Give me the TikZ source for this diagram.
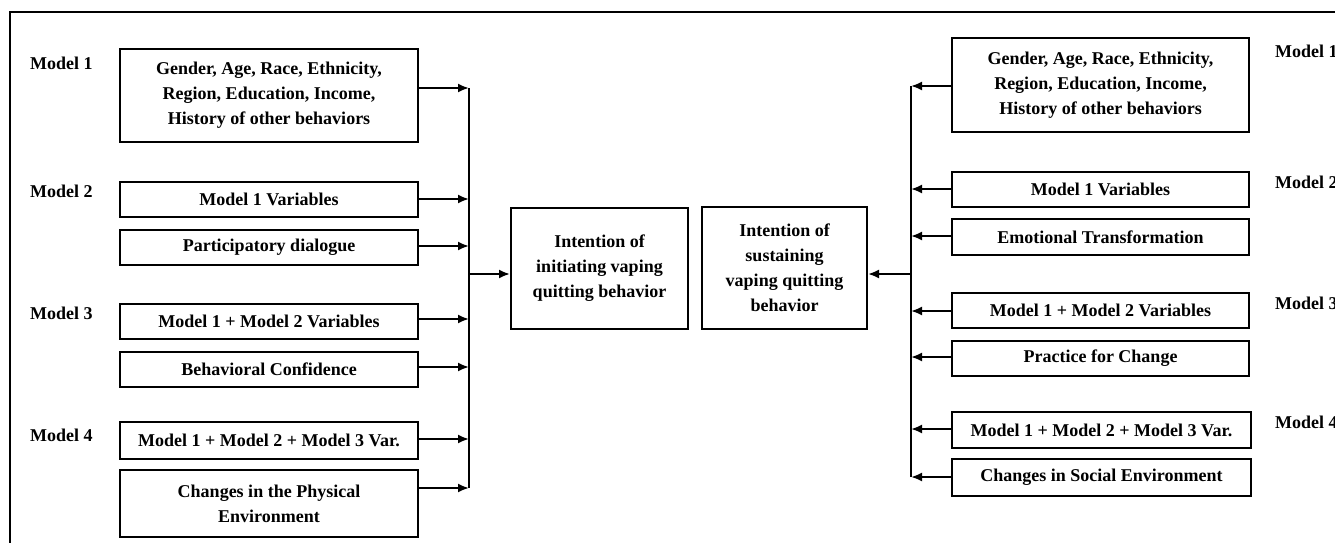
\documentclass[tikz,border=0pt]{standalone}
\usepackage{fontspec}
\setmainfont{Liberation Serif}
\usetikzlibrary{arrows.meta}

\tikzset{
  varbox/.style={draw, line width=2pt, align=center, inner sep=0pt,
                 minimum width=298pt, font=\bfseries\fontsize{18}{25}\selectfont},
  outbox/.style={draw, line width=2pt, align=center, inner sep=0pt,
                 font=\bfseries\fontsize{18}{25}\selectfont},
  modellbl/.style={anchor=west, inner sep=0pt, font=\bfseries\fontsize{18}{25}\selectfont},
  feed/.style={line width=2pt, -{Latex[length=11pt,width=9pt]}},
  bus/.style={line width=2pt},
}

\begin{document}
\begin{tikzpicture}[x=1pt, y=-1pt]
\useasboundingbox (0,0) rectangle (1335,543);
\clip (0,0) rectangle (1335,543);

% outer frame
\draw[line width=2.5pt] (10,560) -- (10,12) -- (1350,12);

% ---- left side: initiating ----
\node[modellbl] (ml1) at (30,63)  {Model 1};
\node[modellbl] (ml2) at (30,191) {Model 2};
\node[modellbl] (ml3) at (30,313) {Model 3};
\node[modellbl] (ml4) at (30,435) {Model 4};

\node[varbox, minimum height=93pt] (l1) at (269,95.5)
  {Gender, Age, Race, Ethnicity,\\Region, Education, Income,\\History of other behaviors};
\node[varbox, minimum height=35pt] (l2) at (269,199.5) {Model 1 Variables};
\node[varbox, minimum height=35pt] (l3) at (269,247.5) {Participatory dialogue};
\node[varbox, minimum height=35pt] (l4) at (269,321.5) {Model 1 + Model 2 Variables};
\node[varbox, minimum height=35pt] (l5) at (269,369.5) {Behavioral Confidence};
\node[varbox, minimum height=37pt] (l6) at (269,440.5) {Model 1 + Model 2 + Model 3 Var.};
\node[varbox, minimum height=67pt] (l7) at (269,503.5) {Changes in the Physical\\Environment};

\node[outbox, minimum width=177pt, minimum height=121pt] (ci) at (599.5,268.5)
  {Intention of\\initiating vaping\\quitting behavior};

\coordinate (a1) at (469,88);
\coordinate (a2) at (469,199);
\coordinate (a3) at (469,246);
\coordinate (a4) at (469,319);
\coordinate (a5) at (469,367);
\coordinate (a6) at (469,439);
\coordinate (a7) at (469,488);
\coordinate (aj) at (469,274);

\draw[bus] (a1) -- (a7);
\foreach \i in {1,...,7} \draw[feed] (l\i.east |- a\i) -- (a\i);
\draw[feed] (aj) -- (ci.west |- aj);

% ---- right side: sustaining ----
\node[modellbl] (mr1) at (1275,51)  {Model 1};
\node[modellbl] (mr2) at (1275,182) {Model 2};
\node[modellbl] (mr3) at (1275,303) {Model 3};
\node[modellbl] (mr4) at (1275,422) {Model 4};

\node[varbox, minimum width=297pt, minimum height=94pt] (r1) at (1100.5,85)
  {Gender, Age, Race, Ethnicity,\\Region, Education, Income,\\History of other behaviors};
\node[varbox, minimum width=297pt, minimum height=35pt] (r2) at (1100.5,189.5) {Model 1 Variables};
\node[varbox, minimum width=297pt, minimum height=36pt] (r3) at (1100.5,237) {Emotional Transformation};
\node[varbox, minimum width=297pt, minimum height=35pt] (r4) at (1100.5,310.5) {Model 1 + Model 2 Variables};
\node[varbox, minimum width=297pt, minimum height=35pt] (r5) at (1100.5,358.5) {Practice for Change};
\node[varbox, minimum width=299pt, minimum height=36pt] (r6) at (1101.5,430) {Model 1 + Model 2 + Model 3 Var.};
\node[varbox, minimum width=299pt, minimum height=37pt] (r7) at (1101.5,477.5) {Changes in Social Environment};

\node[outbox, minimum width=165pt, minimum height=122pt] (cs) at (784.5,268)
  {Intention of\\sustaining\\vaping quitting\\behavior};

\coordinate (b1) at (911,86);
\coordinate (b2) at (911,189);
\coordinate (b3) at (911,236);
\coordinate (b4) at (911,311);
\coordinate (b5) at (911,357);
\coordinate (b6) at (911,429);
\coordinate (b7) at (911,477);
\coordinate (bj) at (911,274);

\draw[bus] (b1) -- (b7);
\foreach \i in {1,...,7} \draw[feed] (r\i.west |- b\i) -- (b\i);
\draw[feed] (bj) -- (cs.east |- bj);
\end{tikzpicture}
\end{document}
